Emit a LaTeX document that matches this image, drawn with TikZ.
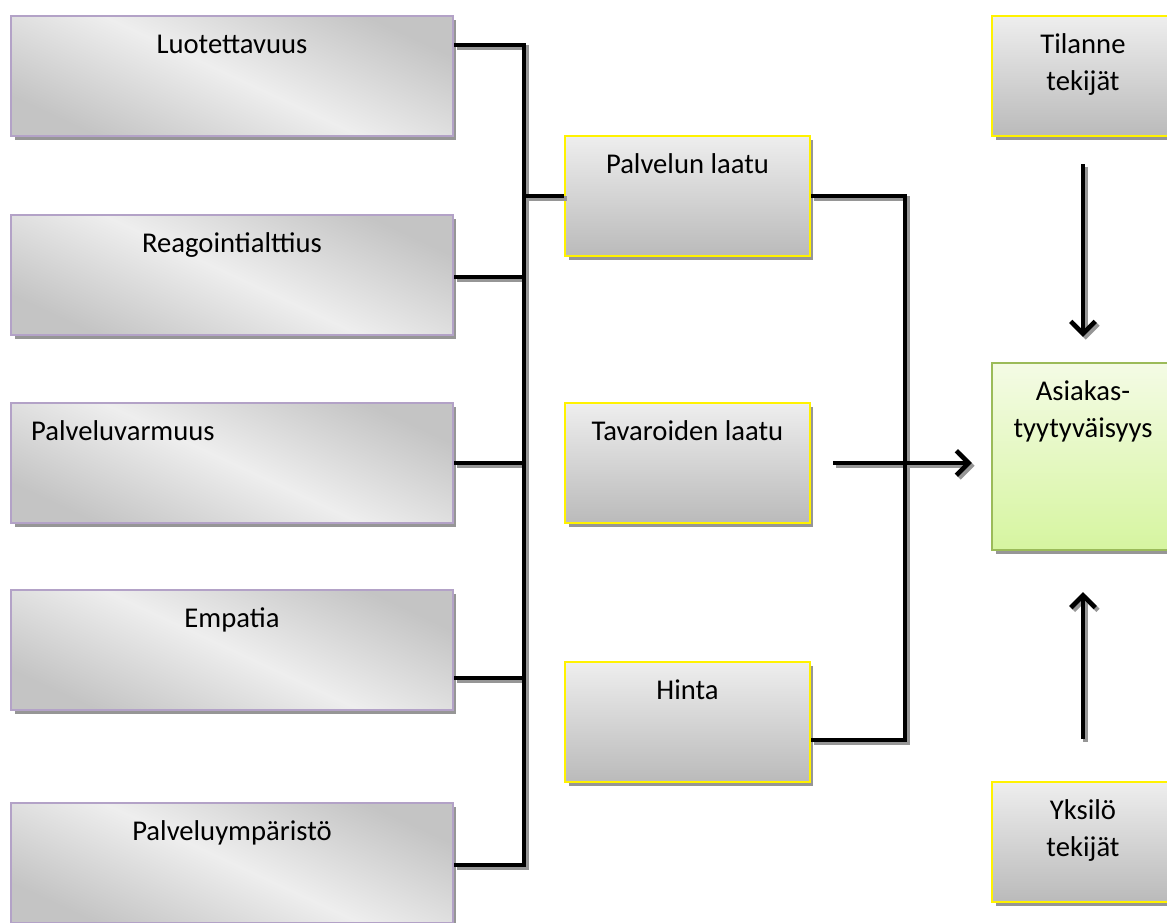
\documentclass[tikz,border=0pt]{standalone}
\usepackage{fontspec}
\setmainfont{Carlito}
\usetikzlibrary{arrows.meta,shadows}
\definecolor{lilac}{RGB}{179,162,199}
\definecolor{shadowgray}{RGB}{150,150,150}
\definecolor{silverlight}{RGB}{238,238,238}
\definecolor{silverdark}{RGB}{196,196,196}
\definecolor{greenlight}{RGB}{244,251,229}
\definecolor{greendark}{RGB}{214,245,160}
\definecolor{greenborder}{RGB}{155,187,89}
\tikzset{
  boxshadow/.style={drop shadow={shadow xshift=2pt, shadow yshift=-2.5pt, fill=shadowgray, opacity=1}},
  dimbox/.style={draw=lilac, line width=1.2pt, top color=silverdark, bottom color=silverdark,
    middle color=silverlight, shading angle=-25, minimum width=8.84cm, minimum height=2.4cm, boxshadow},
  factorbox/.style={draw=yellow, line width=1.2pt, top color=silverlight, bottom color=silverdark!95!black,
    minimum width=4.9cm, minimum height=2.4cm, boxshadow},
  goalbox/.style={draw=greenborder, line width=1.2pt, top color=greenlight, bottom color=greendark,
    minimum width=3.64cm, minimum height=3.74cm, boxshadow},
  boxtext/.style={anchor=base, yshift=-22.1pt, inner sep=0pt, align=center},
  boxtexttwo/.style={boxtext, yshift=-21pt},
  wire/.style={line width=2.7pt, draw=black},
  wireshade/.style={line width=2.7pt, draw=shadowgray},
  tip/.style={-{Straight Barb[length=7pt, width=14pt]}}
}
\newcommand\drawwires[1]{%
\draw[#1] (luot.east |- busA) -| (busE) -- (ymp.east |- busE);
\foreach \d/\b in {reag/busB, varm/busC, empa/busD}
  \draw[#1] (\d.east |- \b) -- (\b);
\draw[#1] (busP) -- (palv.west);
\draw[#1] (palv.east) -- (rbusA) -- (rbusB) -- (hint.east |- rbusB);
% nuolet
\draw[#1, tip, shorten <=0.44cm, shorten >=0.38cm] (tava.east) -- (asia.west |- tava.east);
\draw[#1, tip, shorten <=0.54cm, shorten >=0.5cm] (tila.south) -- (asia.north);
\draw[#1, tip, shorten <=0.84cm, shorten >=0.82cm] (yksi.north) -- (asia.south);
}
\begin{document}
\begin{tikzpicture}[x=0.02cm, y=-0.02cm, font=\fontsize{16.3}{21}\selectfont]
\useasboundingbox (0,0) rectangle (1167,923);
\clip (0,0) rectangle (1167,923);
% laatuulottuvuudet
\node[dimbox, label={[boxtext]north:Luotettavuus}] (luot) at (232,76) {};
\node[dimbox, label={[boxtext]north:Reagointialttius}] (reag) at (232,275) {};
\node[dimbox, label={[boxtext, anchor=base west, xshift=11.9pt]north west:Palveluvarmuus}] (varm) at (232,463) {};
\node[dimbox, label={[boxtext]north:Empatia}] (empa) at (232,650) {};
\node[dimbox, label={[boxtext]north:Palveluympäristö}] (ymp) at (232,863) {};
% tekijat
\node[factorbox, label={[boxtext]north:Palvelun laatu}] (palv) at (687.5,196) {};
\node[factorbox, label={[boxtext]north:Tavaroiden laatu}] (tava) at (687.5,463) {};
\node[factorbox, label={[boxtext]north:Hinta}] (hint) at (687.5,722) {};
\node[factorbox, minimum width=3.64cm, label={[boxtexttwo]north:Tilanne\\tekijät}] (tila) at (1083,76) {};
\node[goalbox, label={[boxtexttwo]north:Asiakas-\\tyytyväisyys}] (asia) at (1083,456.5) {};
\node[factorbox, minimum width=3.64cm, label={[boxtexttwo]north:Yksilö\\tekijät}] (yksi) at (1083,842) {};
% kokoojalinjat
\coordinate (busA) at (524,45);
\coordinate (busB) at (524,277);
\coordinate (busC) at (524,463);
\coordinate (busD) at (524,678);
\coordinate (busE) at (524,865);
\coordinate (busP) at (524,196);
\coordinate (rbusA) at (905,196);
\coordinate (rbusB) at (905,740);
\begin{scope}[transform canvas={xshift=1.5pt, yshift=-1.5pt}]
\drawwires{wireshade}
\end{scope}
\drawwires{wire}
\end{tikzpicture}
\end{document}
